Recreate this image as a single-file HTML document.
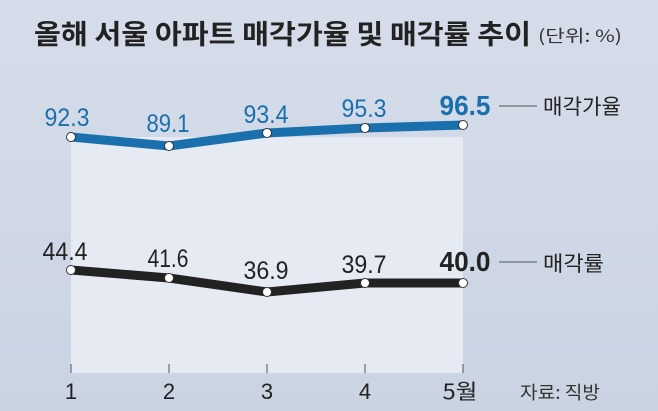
<!DOCTYPE html>
<html><head><meta charset="utf-8"><style>
body{margin:0;width:658px;height:411px;overflow:hidden;background:linear-gradient(180deg,#d6dcea 0%,#cfd7e6 60%,#c9d3e2 100%);font-family:"Liberation Sans","Noto Sans CJK KR",sans-serif}
</style></head><body>
<svg width="658" height="411" xmlns="http://www.w3.org/2000/svg" style="position:absolute;left:0;top:0">
<rect x="71" y="137" width="392" height="236" fill="#e5eaf3"/>
<text x="34" y="44" font-size="27" font-weight="bold" fill="#222" font-family="Noto Sans CJK KR,sans-serif" textLength="497" lengthAdjust="spacingAndGlyphs">올해 서울 아파트 매각가율 및 매각률 추이</text>
<text x="538" y="42" font-size="17" fill="#333" font-family="Noto Sans CJK KR,sans-serif" textLength="84" lengthAdjust="spacingAndGlyphs">(단위: %)</text>
<polyline points="71,137 169,146 267,133 365,128 463,125" fill="none" stroke="#1a6fad" stroke-width="9" stroke-linejoin="round"/>
<polyline points="71,270 169,278 267,292 365,283 463,283" fill="none" stroke="#222" stroke-width="9" stroke-linejoin="round"/>
<g fill="#fff" stroke="#333" stroke-width="1">
<circle cx="71" cy="137" r="4.5"/><circle cx="169" cy="146" r="4.5"/><circle cx="267" cy="133" r="4.5"/><circle cx="365" cy="128" r="4.5"/><circle cx="463" cy="125" r="4.5"/>
<circle cx="71" cy="270" r="4.5"/><circle cx="169" cy="278" r="4.5"/><circle cx="267" cy="292" r="4.5"/><circle cx="365" cy="283" r="4.5"/><circle cx="463" cy="283" r="4.5"/>
</g>
<g font-size="25" fill="#1a6fad" text-anchor="middle" lengthAdjust="spacingAndGlyphs">
<text x="67" y="126" textLength="45" lengthAdjust="spacingAndGlyphs">92.3</text>
<text x="168" y="132" textLength="43" lengthAdjust="spacingAndGlyphs">89.1</text>
<text x="266" y="123" textLength="45" lengthAdjust="spacingAndGlyphs">93.4</text>
<text x="364" y="117" textLength="45" lengthAdjust="spacingAndGlyphs">95.3</text>
<text x="465" y="115" font-size="28" font-weight="bold" textLength="51" lengthAdjust="spacingAndGlyphs">96.5</text></g>
<g font-size="25" fill="#222" text-anchor="middle">
<text x="65" y="260" textLength="45" lengthAdjust="spacingAndGlyphs">44.4</text>
<text x="168" y="267" textLength="41" lengthAdjust="spacingAndGlyphs">41.6</text>
<text x="266" y="279" textLength="45" lengthAdjust="spacingAndGlyphs">36.9</text>
<text x="364" y="273" textLength="45" lengthAdjust="spacingAndGlyphs">39.7</text>
<text x="465" y="271" font-size="28" font-weight="bold" textLength="51" lengthAdjust="spacingAndGlyphs">40.0</text></g>
<line x1="499" y1="106" x2="537" y2="106" stroke="#555"/>
<line x1="499" y1="262" x2="537" y2="262" stroke="#555"/>
<text x="543" y="114" font-size="21" fill="#222" font-family="Noto Sans CJK KR,sans-serif" textLength="78" lengthAdjust="spacingAndGlyphs">매각가율</text>
<text x="543" y="271" font-size="21" fill="#222" font-family="Noto Sans CJK KR,sans-serif" textLength="61" lengthAdjust="spacingAndGlyphs">매각률</text>
<g stroke="#555"><line x1="71" y1="364" x2="71" y2="373"/><line x1="169" y1="364" x2="169" y2="373"/><line x1="267" y1="364" x2="267" y2="373"/><line x1="365" y1="364" x2="365" y2="373"/><line x1="463" y1="364" x2="463" y2="373"/></g>
<g font-size="22" fill="#222" text-anchor="middle">
<text x="71" y="399">1</text><text x="169" y="399">2</text><text x="267" y="399">3</text><text x="365" y="399">4</text>
<text x="460" y="399" font-family="Noto Sans CJK KR,sans-serif" font-size="21" textLength="35" lengthAdjust="spacingAndGlyphs">5월</text></g>
<text x="520" y="399" font-size="18" fill="#333" font-family="Noto Sans CJK KR,sans-serif" textLength="80" lengthAdjust="spacingAndGlyphs">자료: 직방</text>
</svg>
</body></html>
